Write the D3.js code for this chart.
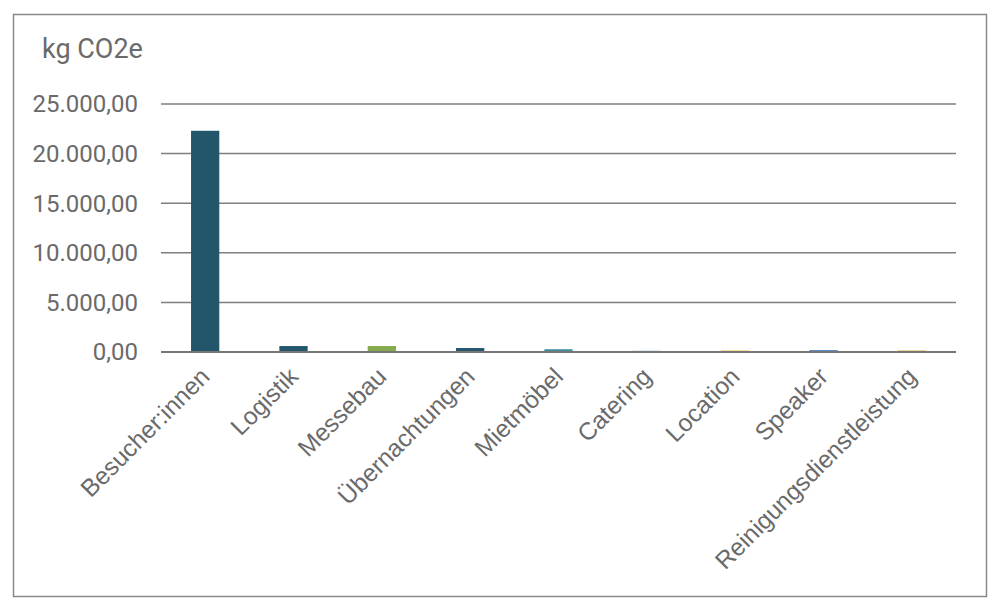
<!DOCTYPE html>
<html><head><meta charset="utf-8">
<script src="https://cdn.jsdelivr.net/npm/d3@7"></script>
<style>body{margin:0;background:#fff}svg{display:block}</style>
</head><body>
<svg id="c" width="1000" height="614"></svg>
<script>
const categories = ["Besucher:innen","Logistik","Messebau","Übernachtungen","Mietmöbel","Catering","Location","Speaker","Reinigungsdienstleistung"];
const values = [22300, 600, 600, 400, 280, 130, 150, 180, 150];
const colors = ["#24566b","#24566b","#84aa4b","#24566b","#3f8e9e","#80c9d6","#f3b834","#2f6fbf","#d8a232"];
const yTicks = [0, 5000, 10000, 15000, 20000, 25000];
const yTitle = "kg CO2e";

const svg = d3.select("#c");
const m = {l:161, r:956, t:104, b:352};
const x = d3.scaleBand().domain(categories).range([m.l, m.r]).paddingInner(0.68).paddingOuter(0.34);
const y = d3.scaleLinear().domain([0, 25000]).range([m.b, m.t]);
const fmt = v => d3.formatLocale({decimal:",", thousands:".", grouping:[3], currency:["","€"]}).format(",.2f")(v);

svg.append("rect").attr("x",13.5).attr("y",14.5).attr("width",973).attr("height",582)
  .attr("fill","#fff").attr("stroke","#8a8a8a").attr("stroke-width",1.5);

svg.append("g").selectAll("line").data(yTicks.filter(d=>d>0)).join("line")
  .attr("x1",m.l).attr("x2",m.r).attr("y1",d=>y(d)).attr("y2",d=>y(d))
  .attr("stroke","#7f7f7f").attr("stroke-width",1.5);

svg.append("g").selectAll("text").data(yTicks).join("text")
  .attr("x",138).attr("y",d=>y(d)).attr("dy","0.35em").attr("text-anchor","end")
  .attr("font-family","Roboto").attr("font-size",24).attr("fill","#6a6a6a")
  .text(d=>fmt(d));

svg.append("g").selectAll("rect").data(values).join("rect")
  .attr("x",(d,i)=>x(categories[i])).attr("width",x.bandwidth())
  .attr("y",d=>y(d)).attr("height",d=>y(0)-y(d)).attr("fill",(d,i)=>colors[i]);

svg.append("line").attr("x1",m.l).attr("x2",m.r).attr("y1",y(0)).attr("y2",y(0))
  .attr("stroke","#767676").attr("stroke-width",2);

svg.append("g").selectAll("text").data(categories).join("text")
  .attr("transform",d=>`translate(${x(d)+x.bandwidth()/2},${372}) rotate(-45)`)
  .attr("text-anchor","end").attr("dy","0.35em")
  .attr("font-family","Liberation Sans, Arial").attr("font-size",24.5).attr("fill","#6a6a6a")
  .text(d=>d);

svg.append("text").attr("x",42).attr("y",58).attr("font-family","Roboto").attr("font-size",27)
  .attr("fill","#6a6a6a").text(yTitle);
</script>
</body></html>
